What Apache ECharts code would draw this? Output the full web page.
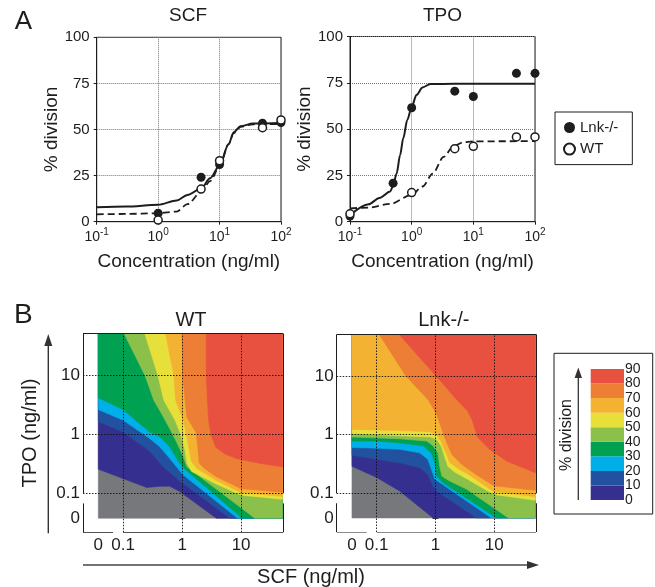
<!DOCTYPE html>
<html><head><meta charset="utf-8">
<script src="https://cdn.jsdelivr.net/npm/echarts@6/dist/echarts.min.js"></script>
<style>html,body{margin:0;padding:0;background:#fff}#c{width:655px;height:587px}</style>
</head><body><div id="c"></div>
<script>
// ---------------- Panel A data (concentration in ng/ml, % division) ----------------
const scfConc   = [1, 5, 10, 50, 100];
const scfLnkPct = [4.6, 24.1, 31.0, 53.4, 53.8];
const scfWtPct  = [0.9, 17.7, 33.1, 51.0, 55.2];
const scfFitConc = [0.1, 0.3, 1, 2, 3, 5, 7, 10, 14, 17, 22, 35, 100];
const scfFitLnk  = [7.8, 8.2, 9.2, 11.5, 14.5, 18, 23.5, 30.5, 42, 48.5, 51.8, 53.2, 53.5];
const scfFitWt   = [4.0, 4.2, 4.6, 5.5, 9.5, 16, 22, 30, 42, 48, 51.5, 52.8, 53];

const tpoConc   = [0.1, 0.5, 1, 5, 10, 50, 100];
const tpoLnkPct = [3.1, 20.8, 61.5, 70.5, 67.6, 80.1, 80.1];
const tpoWtPct  = [4.3, null, 15.7, 39.4, 40.7, 45.8, 45.8];
const tpoFitLnkConc = [0.1, 0.2, 0.3, 0.45, 0.5, 0.57, 0.65, 0.73, 0.85, 1, 1.2, 1.5, 2, 5, 100];
const tpoFitLnk     = [3.5, 9.4, 12.8, 16.3, 19.5, 26, 36, 45, 55, 62, 68.5, 72.5, 74.3, 74.5, 74.5];
const tpoFitWtConc  = [0.1, 0.2, 0.45, 1, 1.5, 2.2, 3.3, 4.7, 6.7, 10, 100];
const tpoFitWt      = [7.2, 7.6, 9.6, 14.5, 19, 26, 35, 40.5, 42.8, 43.4, 43.5];

// ---------------- Panel B data ----------------
// Contour levels (% division) and boundaries, in axis units: log10(SCF), log10(TPO);
// concentration 0 sits at -1.42 on both axes, the plotted field ends at 1.7 (~50 ng/ml).
const levelBounds = [0, 10, 20, 30, 40, 50, 60, 70, 80, 90];
const bTickPos    = [-1.42, -1, 0, 1];
const bTickLabels = ['0', '0.1', '1', '10'];

const WT_0  = [[-1.42,-0.59],[-1.0,-0.75],[-0.60,-0.90],[-0.38,-0.88],[-0.21,-0.88],[-0.04,-0.97],[0.58,-1.42]];
const WT_10 = [[-1.42,0.22],[-1.0,0.04],[-0.55,-0.28],[-0.33,-0.54],[-0.04,-0.79],[0.81,-1.42]];
const WT_20 = [[-1.42,0.42],[-1.0,0.24],[-0.55,-0.07],[-0.38,-0.21],[-0.21,-0.41],[0.02,-0.69],[0.94,-1.42]];
const WT_30 = [[-1.42,0.62],[-1.0,0.42],[-0.55,0.04],[-0.38,-0.04],[-0.21,-0.21],[-0.04,-0.49],[0.05,-0.59],[1.02,-1.42]];
const WT_40 = [[-0.98,1.7],[-0.63,1.0],[-0.48,0.58],[-0.32,0.30],[-0.18,0.04],[-0.07,-0.18],[0.02,-0.38],[0.08,-0.55],[1.23,-1.42]];
const WT_50 = [[-0.63,1.7],[-0.41,1.0],[-0.31,0.58],[-0.12,0.24],[-0.03,0.02],[0.05,-0.27],[0.08,-0.49],[0.16,-0.63],[0.58,-0.84],[1.0,-1.03],[1.7,-1.1]];
const WT_60 = [[-0.28,1.7],[-0.14,1.0],[-0.11,0.58],[0.02,0.24],[0.07,0.02],[0.12,-0.27],[0.16,-0.46],[0.25,-0.58],[0.58,-0.78],[1.0,-0.99],[1.7,-1.05]];
const WT_70 = [[0,1.7],[0.01,1.0],[0.05,0.58],[0.08,0.29],[0.16,0.16],[0.24,0.02],[0.27,-0.27],[0.29,-0.49],[0.38,-0.58],[0.58,-0.72],[1.0,-0.92],[1.7,-0.98]];
const WT_80 = [[0.41,1.7],[0.41,1.0],[0.43,0.58],[0.45,0.24],[0.49,-0.01],[0.57,-0.22],[0.72,-0.33],[0.92,-0.41],[1.31,-0.49],[1.7,-0.55]];

const LNK_0  = [[-1.42,-0.54],[-1.0,-0.73],[-0.61,-0.96],[-0.04,-1.42]];
const LNK_10 = [[-1.42,-0.35],[-1.0,-0.42],[-0.61,-0.48],[-0.27,-0.56],[-0.13,-0.68],[-0.04,-0.88],[0.02,-0.96],[0.70,-1.42]];
const LNK_20 = [[-1.42,-0.22],[-1.0,-0.23],[-0.61,-0.25],[-0.27,-0.31],[-0.13,-0.42],[-0.07,-0.59],[-0.01,-0.76],[0.95,-1.42]];
const LNK_30 = [[-1.42,-0.11],[-1.0,-0.11],[-0.61,-0.14],[-0.21,-0.19],[-0.07,-0.31],[-0.01,-0.48],[0.02,-0.71],[0.13,-0.82],[1.04,-1.42]];
const LNK_40 = [[-1.42,-0.04],[-0.61,-0.07],[-0.15,-0.11],[-0.04,-0.19],[0.04,-0.31],[0.07,-0.54],[0.11,-0.71],[0.24,-0.79],[0.53,-0.93],[1.24,-1.42]];
const LNK_50 = [[-1.42,0.02],[-0.61,-0.02],[-0.08,-0.04],[0.02,-0.08],[0.10,-0.20],[0.16,-0.39],[0.21,-0.54],[0.33,-0.64],[0.53,-0.75],[0.99,-1.02],[1.7,-1.12]];
const LNK_60 = [[-1.42,0.09],[-0.61,0.07],[-0.10,0.05],[0.01,0.01],[0.09,-0.11],[0.19,-0.34],[0.24,-0.47],[0.40,-0.59],[0.53,-0.66],[0.99,-0.97],[1.7,-1.06]];
const LNK_70 = [[-0.95,1.7],[-0.51,1.01],[-0.13,0.60],[0.02,0.35],[0.11,0.09],[0.18,-0.11],[0.28,-0.34],[0.45,-0.51],[0.69,-0.68],[0.99,-0.87],[1.7,-0.95]];
const LNK_80 = [[-0.61,1.7],[0.01,1.0],[0.36,0.60],[0.55,0.40],[0.62,0.26],[0.72,-0.05],[0.92,-0.25],[1.21,-0.45],[1.7,-0.65]];

const wtContours  = [WT_0, WT_10, WT_20, WT_30, WT_40, WT_50, WT_60, WT_70, WT_80];
const lnkContours = [LNK_0, LNK_10, LNK_20, LNK_30, LNK_40, LNK_50, LNK_60, LNK_70, LNK_80];

// ---------------- styles / geometry ----------------
const FONT = 'Liberation Sans, Arial, Helvetica, sans-serif';
const INK = '#1d1d1b';
const levelColors = ['#77787b', '#35308f', '#22529f', '#00aee8', '#00a150', '#8bc04b', '#e8e03a', '#f4b232', '#ec7e35', '#e8513f'];
const ZERO = -1.42, EDGE = 1.7, BRK = -1.17;
const XMIN = -1.68, XMAX = 1.71, YMIN = -1.66, YMAX = 1.71;

function closeRegion(b) {
  const pts = b.slice();
  const s = pts[0], e = pts[pts.length - 1];
  if (e[1] <= ZERO + 1e-6) pts.push([EDGE, ZERO]);
  pts.push([EDGE, EDGE]);
  if (s[0] <= ZERO + 1e-6) pts.push([ZERO, EDGE]);
  return pts;
}
const baseRect = [[ZERO, ZERO], [EDGE, ZERO], [EDGE, EDGE], [ZERO, EDGE]];

function contourSeries(ax, bounds) {
  const polys = [baseRect].concat(bounds.map(closeRegion));
  return {
    type: 'custom', xAxisIndex: ax, yAxisIndex: ax, z: 2, silent: true,
    data: polys.map(() => [0, 0]),
    renderItem: (params, api) => {
      const i = params.dataIndex;
      return { type: 'polygon', shape: { points: polys[i].map(p => api.coord(p)) },
        style: { fill: levelColors[i], stroke: levelColors[i], lineWidth: 0.6 } };
    }
  };
}
function logTicks(lo, hi) {
  const out = [];
  for (let d = -1; d <= 1; d++) for (let k = 1; k <= 9; k++) {
    const v = d + Math.log10(k);
    if (v >= lo - 1e-9 && v <= hi + 1e-9) out.push(v);
  }
  return out;
}
const minorTicks = [ZERO, BRK].concat(logTicks(-1, EDGE));
const leftTicks = [ZERO, BRK, -1, 0, 1];
const bFmt = v => { const i = bTickPos.findIndex(t => Math.abs(t - v) < 1e-6); return i < 0 ? '' : bTickLabels[i]; };

function frameSeries(ax) {
  const seg = (a, b) => ({ coords: [a, b] });
  const axes = [
    seg([XMIN, YMIN], [BRK, YMIN]), seg([-1, YMIN], [XMAX, YMIN]),
    seg([XMIN, YMIN], [XMIN, BRK]), seg([XMIN, -1], [XMIN, YMAX]),
    seg([XMAX, YMIN], [XMAX, BRK]), seg([XMAX, -1], [XMAX, YMAX]),
    seg([XMIN, YMAX], [XMAX, YMAX])
  ];
  const grid = [];
  bTickPos.slice(1).forEach(v => {
    grid.push(seg([v, YMIN], [v, YMAX]));
    grid.push(seg([XMIN, v], [XMAX, v]));
  });
  return [
    { type: 'lines', coordinateSystem: 'cartesian2d', xAxisIndex: ax, yAxisIndex: ax, z: 6, silent: true,
      lineStyle: { color: INK, width: 1, opacity: 1 }, data: axes },
    { type: 'lines', coordinateSystem: 'cartesian2d', xAxisIndex: ax, yAxisIndex: ax, z: 5, silent: true,
      lineStyle: { color: '#111', width: 1, opacity: 0.9, type: [1.5, 1.5] }, data: grid }
  ];
}

function aXAxis(g) {
  return {
    type: 'log', logBase: 10, gridIndex: g, min: 0.1, max: 100,
    axisLine: { show: true, lineStyle: { color: INK } },
    axisTick: { show: true, length: 3, lineStyle: { color: INK } },
    splitLine: { show: true, lineStyle: { type: 'dotted', color: '#777' } },
    axisLabel: { margin: 6, formatter: v => '{b|10}{s|' + Math.round(Math.log10(v)) + '}',
      rich: { b: { fontSize: 14, fontFamily: FONT, color: INK, lineHeight: 18 },
              s: { fontSize: 10, fontFamily: FONT, color: INK, lineHeight: 18, verticalAlign: 'top' } } },
    name: 'Concentration (ng/ml)', nameLocation: 'middle', nameGap: 31,
    nameTextStyle: { fontSize: 19, color: INK, fontFamily: FONT }
  };
}
function aYAxis(g, gap) {
  return {
    type: 'value', gridIndex: g, min: 0, max: 100, interval: 25,
    axisLine: { show: true, lineStyle: { color: INK } },
    axisTick: { show: true, length: 3, lineStyle: { color: INK } },
    splitLine: { show: true, lineStyle: { type: 'dotted', color: '#777' } },
    axisLabel: { fontSize: 15, margin: 7, color: INK, fontFamily: FONT },
    name: '% division', nameLocation: 'middle', nameGap: gap,
    nameTextStyle: { fontSize: 19, color: INK, fontFamily: FONT }
  };
}
function bXAxes(g) {
  return [
    { type: 'value', gridIndex: g, min: XMIN, max: XMAX, axisLine: { show: false }, splitLine: { show: false },
      axisTick: { show: true, inside: true, length: 3, customValues: minorTicks, lineStyle: { color: INK } },
      axisLabel: { show: true, customValues: bTickPos, formatter: bFmt, fontSize: 17, margin: 5, color: INK, fontFamily: FONT } },
    { type: 'value', gridIndex: g, position: 'top', min: XMIN, max: XMAX, axisLine: { show: false }, splitLine: { show: false },
      axisTick: { show: true, inside: false, length: 3, customValues: minorTicks, lineStyle: { color: INK } },
      axisLabel: { show: false } }
  ];
}
function bYAxes(g) {
  return [
    { type: 'value', gridIndex: g, min: YMIN, max: YMAX, axisLine: { show: false }, splitLine: { show: false },
      axisTick: { show: true, inside: false, length: 3, customValues: leftTicks, lineStyle: { color: INK } },
      axisLabel: { show: true, customValues: bTickPos, formatter: bFmt, fontSize: 17, margin: 3, color: INK, fontFamily: FONT } },
    { type: 'value', gridIndex: g, position: 'right', min: YMIN, max: YMAX, axisLine: { show: false }, splitLine: { show: false },
      axisTick: { show: true, inside: false, length: 3, customValues: minorTicks, lineStyle: { color: INK } },
      axisLabel: { show: false } }
  ];
}

const pairs = (xs, ys) => xs.map((x, i) => [x, ys[i]]).filter(p => p[1] !== null);
function fit(name, ax, xs, ys, dashed) {
  return { type: 'line', name, xAxisIndex: ax, yAxisIndex: ax, data: pairs(xs, ys), symbol: 'none',
    smooth: 0.3, smoothMonotone: 'x', z: 3, silent: true,
    lineStyle: { color: INK, width: dashed ? 1.8 : 2, type: dashed ? [7, 4] : 'solid' } };
}
function dots(name, ax, xs, ys, open) {
  return { type: 'scatter', name, xAxisIndex: ax, yAxisIndex: ax, data: pairs(xs, ys), symbol: 'circle',
    symbolSize: open ? 8 : 9, z: open ? 5 : 4, silent: true,
    itemStyle: open ? { color: '#fff', borderColor: INK, borderWidth: 1.5, opacity: 1 } : { color: INK, opacity: 1 } };
}

const cbSeries = levelBounds.slice(1).map((v, i) => ({
  type: 'bar', xAxisIndex: 6, yAxisIndex: 6, stack: 'cb', data: [v - levelBounds[i]],
  barWidth: '100%', silent: true, itemStyle: { color: levelColors[i + 1] }
}));

const txt = (text, x, y, size, rot) => ({
  type: 'text', x, y, rotation: rot || 0, silent: true,
  style: { text, fontSize: size, fontFamily: FONT, fill: INK, align: 'center', verticalAlign: 'middle',
           textAlign: 'center', textVerticalAlign: 'middle' }
});

const gridBase = { containLabel: false, outerBoundsMode: 'none' };
const option = {
  animation: false,
  backgroundColor: '#fff',
  textStyle: { fontFamily: FONT },
  grid: [
    Object.assign({ left: 96.7, top: 37.3, width: 184.3, height: 184.4, show: true, borderColor: INK, borderWidth: 1 }, gridBase),
    Object.assign({ left: 350, top: 36.5, width: 185, height: 185.2, show: true, borderColor: INK, borderWidth: 1 }, gridBase),
    Object.assign({ left: 83, top: 333.5, width: 200, height: 198.8 }, gridBase),
    Object.assign({ left: 336.7, top: 334.4, width: 199.3, height: 197.6 }, gridBase),
    Object.assign({ left: 590.7, top: 369, width: 33.3, height: 131 }, gridBase)
  ],
  xAxis: [aXAxis(0), aXAxis(1)].concat(bXAxes(2), bXAxes(3), [
    { type: 'category', gridIndex: 4, data: ['%'], show: false }
  ]),
  yAxis: [aYAxis(0, 32), aYAxis(1, 35)].concat(bYAxes(2), bYAxes(3), [
    { type: 'value', gridIndex: 4, min: 0, max: 90, interval: 10, position: 'right',
      axisLine: { show: false }, axisTick: { show: false }, splitLine: { show: false },
      axisLabel: { fontSize: 14, margin: 1, color: INK, fontFamily: FONT } }
  ]),
  legend: {
    data: ['Lnk-/-', 'WT'], orient: 'vertical', left: 555, top: 112, padding: [8, 14, 8, 8],
    itemGap: 6.6, itemWidth: 11, itemHeight: 11, borderColor: INK, borderWidth: 1,
    selectedMode: false, textStyle: { fontSize: 15, color: INK, fontFamily: FONT }
  },
  series: [
    fit('Lnk-/- fit', 0, scfFitConc, scfFitLnk, false),
    fit('WT fit', 0, scfFitConc, scfFitWt, true),
    dots('Lnk-/-', 0, scfConc, scfLnkPct, false),
    dots('WT', 0, scfConc, scfWtPct, true),
    fit('Lnk-/- fit', 1, tpoFitLnkConc, tpoFitLnk, false),
    fit('WT fit', 1, tpoFitWtConc, tpoFitWt, true),
    dots('Lnk-/-', 1, tpoConc, tpoLnkPct, false),
    dots('WT', 1, tpoConc, tpoWtPct, true),
    contourSeries(2, wtContours),
    contourSeries(4, lnkContours)
  ].concat(frameSeries(2), frameSeries(4), cbSeries),
  graphic: [
    txt('A', 23.3, 22, 26), txt('B', 23.3, 315, 28),
    txt('SCF', 188, 16, 19), txt('TPO', 442.5, 16, 19),
    txt('WT', 191, 320, 20), txt('Lnk-/-', 443.8, 320, 20),
    txt('TPO (ng/ml)', 30, 433, 20, Math.PI / 2),
    txt('SCF (ng/ml)', 311, 577, 20),
    { type: 'line', silent: true, shape: { x1: 48.3, y1: 533.3, x2: 48.3, y2: 343 }, style: { stroke: '#333', lineWidth: 1.4 } },
    { type: 'polygon', silent: true, shape: { points: [[48.3, 334], [44.3, 346], [52.3, 346]] }, style: { fill: '#333' } },
    { type: 'line', silent: true, shape: { x1: 83, y1: 565, x2: 530, y2: 565 }, style: { stroke: '#444', lineWidth: 1.6 } },
    { type: 'polygon', silent: true, shape: { points: [[539, 565], [527, 561], [527, 569]] }, style: { fill: '#333' } },
    { type: 'rect', silent: true, shape: { x: 554, y: 353.3, width: 98.7, height: 160.7 }, style: { fill: 'none', stroke: INK, lineWidth: 1 } },
    { type: 'line', silent: true, shape: { x1: 578.3, y1: 500, x2: 578.3, y2: 376 }, style: { stroke: '#333', lineWidth: 1.3 } },
    { type: 'polygon', silent: true, shape: { points: [[578.3, 367.5], [574.6, 378], [582, 378]] }, style: { fill: '#333' } },
    txt('% division', 566.7, 435, 16, Math.PI / 2)
  ]
};
const chart = echarts.init(document.getElementById('c'), null, { renderer: 'canvas', width: 655, height: 587 });
chart.setOption(option);
</script></body></html>
